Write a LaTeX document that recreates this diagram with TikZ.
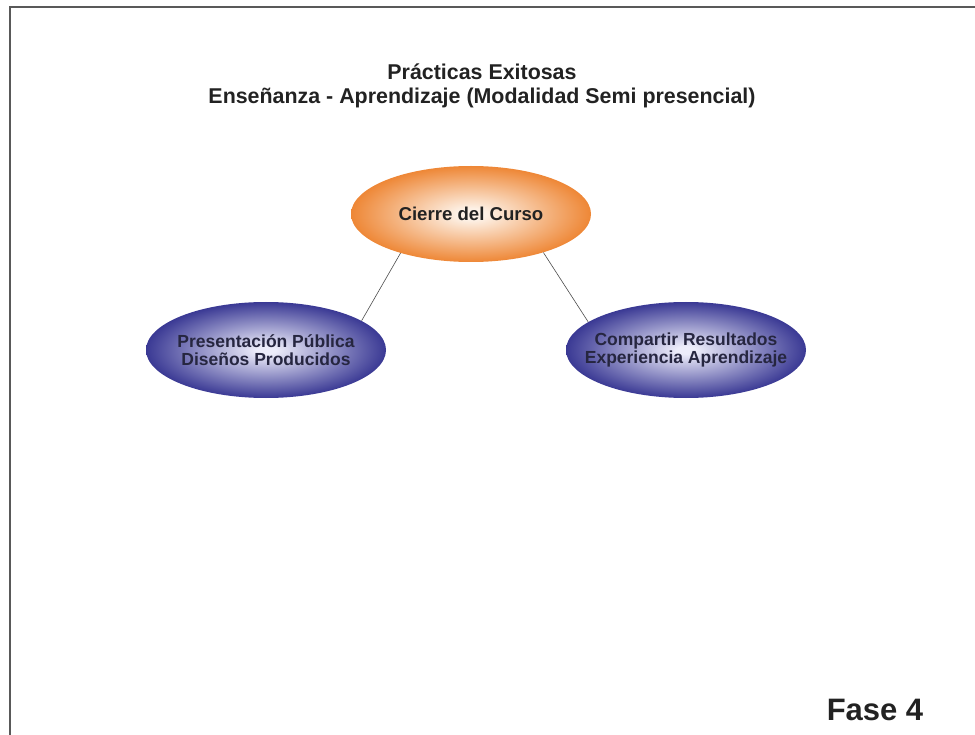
\documentclass[tikz,border=0pt]{standalone}
\usepackage{fontspec}
\setmainfont{Liberation Sans}
\usetikzlibrary{shapes.geometric}

\definecolor{orangeedge}{HTML}{EE8736}
\definecolor{orangecore}{HTML}{FDF1E6}
\definecolor{blueedge}{HTML}{3A3994}
\definecolor{bluecore}{HTML}{ECECFA}
\definecolor{textdark}{HTML}{222222}
\definecolor{textblue}{HTML}{262640}

\pgfdeclareradialshading{orangeglow}{\pgfpoint{0bp}{0bp}}{%
  color(0bp)=(orangecore); color(3bp)=(orangecore);
  color(25bp)=(orangeedge); color(50bp)=(orangeedge)}
\pgfdeclareradialshading{blueglow}{\pgfpoint{0bp}{0bp}}{%
  color(0bp)=(bluecore); color(2bp)=(bluecore);
  color(25bp)=(blueedge); color(50bp)=(blueedge)}

\tikzset{
  phase/.style = {ellipse, minimum width = 240pt, minimum height = 96pt,
    inner xsep = -40pt, inner ysep = 0pt, align = center,
    font = \bfseries\fontsize{17.5}{18}\selectfont},
  phasetop/.style = {phase, shading = orangeglow, text = textdark,
    font = \bfseries\fontsize{18.6}{20}\selectfont},
  phasesub/.style = {phase, shading = blueglow, text = textblue},
  link/.style = {draw = black!70, line width = 0.6pt}
}

\begin{document}
\begin{tikzpicture}[x = 1pt, y = -1pt]
  \useasboundingbox (0,0) rectangle (975,735);
  \draw [black!65, line width = 1.5pt] (10,735) -- (10,7) -- (975,7);

  \node (title) at (482,86) [align = center, text = textdark,
    font = \bfseries\fontsize{21.4}{24.5}\selectfont]
    {Prácticas Exitosas\\Enseñanza - Aprendizaje (Modalidad Semi presencial)};

  \node (cierre) at (471,214) [phasetop] {Cierre del Curso};
  \node (presentacion) at (266,350) [phasesub] {Presentación Pública\\Diseños Producidos};
  \node (compartir) at (686,350) [phasesub] {Compartir Resultados\\Experiencia Aprendizaje};

  \draw [link] (cierre.209) -- (presentacion.17);
  \draw [link] (cierre.332) -- (compartir.164);

  \node (fase) at (875,710) [font = \bfseries\fontsize{31}{36}\selectfont, text = textdark] {Fase 4};
\end{tikzpicture}
\end{document}
